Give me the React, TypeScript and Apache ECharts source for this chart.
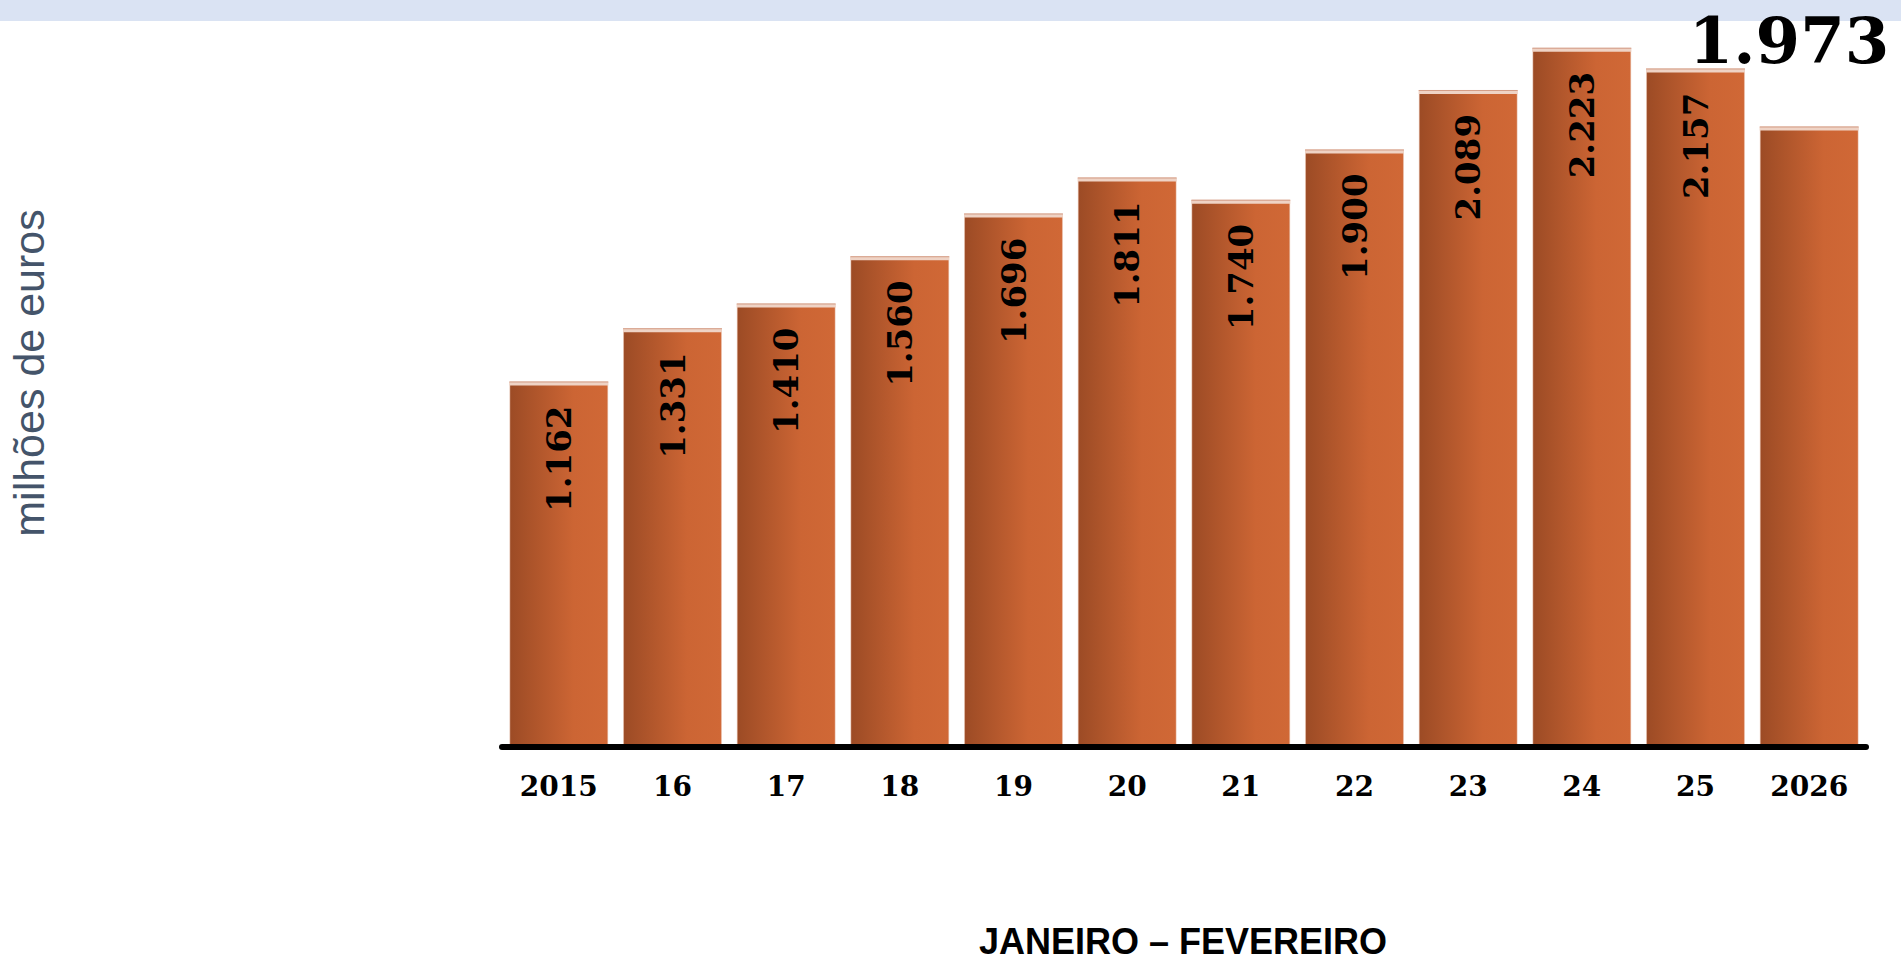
import React, { useEffect, useRef } from "react";
import * as echarts from "echarts";

const categories = ["2015", "16", "17", "18", "19", "20", "21", "22", "23", "24", "25", "2026"];
const values = [1162, 1331, 1410, 1560, 1696, 1811, 1740, 1900, 2089, 2223, 2157, 1973];
const yAxisTitle = "milhões de euros";
const periodTitle = "JANEIRO – FEVEREIRO";

const fmt = (v: number) => {
  const th = Math.floor(v / 1000);
  const rest = String(v % 1000).padStart(3, "0");
  return th > 0 ? `${th}.${rest}` : String(v);
};

export default function App() {
  const ref = useRef<HTMLDivElement>(null);
  useEffect(() => {
    if (!ref.current) return;
    const chart = echarts.init(ref.current, undefined, { renderer: "svg" });
    const lastIdx = values.length - 1;
    const barGradient = new echarts.graphic.LinearGradient(0, 0, 1, 0, [
      { offset: 0, color: "#9c4b25" },
      { offset: 0.65, color: "#cc6534" },
      { offset: 1, color: "#d06836" },
    ]);
    chart.setOption({
      animation: false,
      backgroundColor: "#ffffff",
      grid: { left: 502, right: 35, top: 23.6, bottom: 213 },
      xAxis: {
        type: "category",
        data: categories,
        axisLine: { show: true, lineStyle: { color: "#000000", width: 6 } },
        axisTick: { show: false },
        axisLabel: {
          color: "#000000",
          fontFamily: "DejaVu Serif",
          fontWeight: "bold",
          fontSize: 28,
          margin: 25,
        },
        z: 5,
      },
      yAxis: { type: "value", min: 0, max: 2300, show: false, splitLine: { show: false } },
      graphic: [
        { type: "rect", shape: { x: 0, y: 0, width: 1901, height: 21 }, style: { fill: "#dae3f3" }, z: 0 },
        {
          type: "text",
          x: 1789,
          y: 40,
          style: {
            text: fmt(values[lastIdx]),
            fontFamily: "DejaVu Serif",
            fontWeight: "bold",
            fontSize: 64,
            lineHeight: 62,
            fill: "#000000",
            align: "center",
            verticalAlign: "middle",
          },
          z: 10,
        },
        {
          type: "text",
          x: 29,
          y: 373,
          rotation: Math.PI / 2,
          style: {
            text: yAxisTitle,
            fontFamily: "Liberation Sans",
            fontSize: 43,
            fill: "#44546a",
            align: "center",
            verticalAlign: "middle",
          },
        },
        {
          type: "text",
          x: 1183,
          y: 941,
          style: {
            text: periodTitle,
            fontFamily: "Liberation Sans",
            fontWeight: "bold",
            fontSize: 36,
            fill: "#000000",
            align: "center",
            verticalAlign: "middle",
          },
        },
      ],
      series: [
        {
          type: "bar",
          barCategoryGap: "13%",
          data: values.map((v, i) => (i === lastIdx ? { value: v, label: { show: false } } : v)),
          itemStyle: { color: barGradient, borderColor: "rgba(235,195,175,0.5)", borderWidth: 1 },
          label: {
            show: true,
            position: "insideTop",
            rotate: 90,
            align: "right",
            verticalAlign: "middle",
            distance: 24,
            color: "#000000",
            fontFamily: "DejaVu Serif",
            fontWeight: "bold",
            fontSize: 34,
            formatter: (p: any) => fmt(p.value),
          },
          z: 2,
        },
        {
          type: "custom",
          data: values.map((v, i) => [i, v]),
          z: 3,
          renderItem: (params: any, api: any) => {
            const idx = api.value(0);
            const v = api.value(1);
            const top = api.coord([idx, v]);
            const w = api.size([1, 0])[0] * 0.87;
            return {
              type: "group",
              children: [
                {
                  type: "rect",
                  shape: { x: top[0] - w / 2, y: top[1], width: w, height: 4 },
                  style: { fill: "#efd3c5" },
                },
                {
                  type: "rect",
                  shape: { x: top[0] - w / 2, y: top[1], width: w, height: 1 },
                  style: { fill: "#d49e88" },
                },
              ],
            };
          },
        },
      ],
    });
    return () => chart.dispose();
  }, []);
  return <div ref={ref} style={{ position: "fixed", left: 0, top: 0, width: 1901, height: 960 }} />;
}
